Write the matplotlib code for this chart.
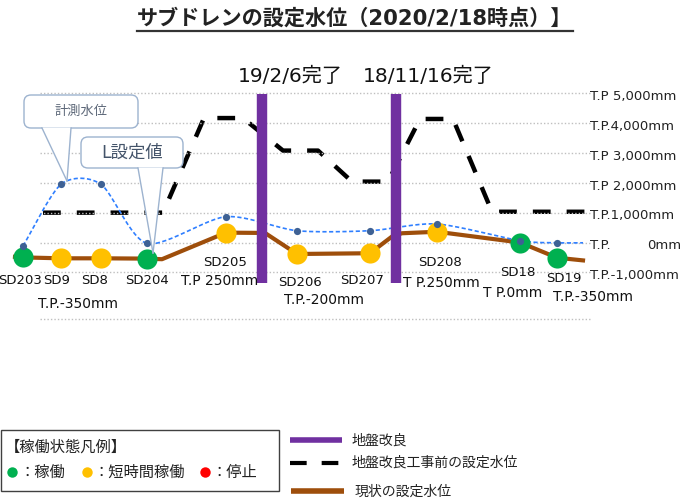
import numpy as np
import matplotlib
matplotlib.use("Agg")
import matplotlib.pyplot as plt
from matplotlib.patches import FancyBboxPatch, Rectangle, Polygon

plt.rcParams['font.family'] = ['DejaVu Sans', 'Noto Sans CJK JP']

# ---------------- data ----------------
stations = ['SD203', 'SD9', 'SD8', 'SD204', 'SD205', 'SD206', 'SD207', 'SD208', 'SD18', 'SD19']
station_pos = [23, 61, 101, 147, 226, 297, 370, 437, 520, 557]
status = ['稼働', '短時間稼働', '短時間稼働', '稼働', '短時間稼働', '短時間稼働',
          '短時間稼働', '短時間稼働', '稼働', '稼働']
measured_level = [-120, 1950, 1950, -30, 865, 395, 395, 620, 60, -10]

current_path_pos = [15, 23, 61, 101, 147, 162, 226, 265, 297, 370, 392, 402, 437, 520, 557, 583]
current_path_level = [-480, -500, -530, -530, -540, -560, 330, 320, -385, -360, 200, 310, 360, 0, -510, -600]

before_path_pos = [43, 163, 204, 243, 283, 318, 352, 388, 420, 453, 492, 585]
before_path_level = [1000, 1000, 4170, 4170, 3080, 3080, 2040, 2040, 4140, 4140, 1030, 1030]

improvement_pos = [262, 396]
improvement_labels = ['19/2/6完了', '18/11/16完了']

grid_levels = [5000, 4000, 3000, 2000, 1000, 0, -1000]
grid_labels = ['T.P 5,000mm', 'T.P.4,000mm', 'T.P 3,000mm', 'T.P 2,000mm',
               'T.P.1,000mm', 'T.P.', 'T.P.-1,000mm']

station_notes = [('SD205', 'T.P 250mm'), ('SD208', 'T P.250mm'), ('SD18', 'T P.0mm'),
                 ('SD19', 'T.P.-350mm')]

status_colors = {'稼働': '#00B050', '短時間稼働': '#FFC000', '停止': '#FF0000'}

# ---------------- figure ----------------
W, H = 697, 504
fig = plt.figure(figsize=(W / 100, H / 100), dpi=100)
k = 0.02984            # px per mm
y0 = 242.5             # pixel row of T.P. 0
ax = fig.add_axes([0, 0, 1, 1])
ax.set_xlim(0, W)
ax.set_ylim((y0 - H) / k, y0 / k)
ax.axis('off')

ov = fig.add_axes([0, 0, 1, 1], zorder=10)
ov.set_xlim(0, W)
ov.set_ylim(H, 0)
ov.axis('off')
ov.patch.set_alpha(0)

# grid lines
for g in grid_levels + [-2560]:
    ax.plot([40, 590], [g, g], color='#BFBFBF', lw=1.0, ls=(0, (1, 1.5)), zorder=2)

# right side labels
for g, lab in zip(grid_levels, grid_labels):
    ax.text(590, g - 110, lab, fontsize=9.5, color='#222222', ha='left', va='center', zorder=3)
ax.text(681, 0 - 110, '0mm', fontsize=9.5, color='#222222', ha='right', va='center', zorder=3)

# pre-improvement setting (dashed)
ax.plot(before_path_pos, before_path_level, color='black', lw=3.2,
        ls=(0, (4.0, 3.6)), zorder=1.5, solid_capstyle='butt', dash_capstyle='butt')

# current setting (brown)
ax.plot(current_path_pos, current_path_level, color='#9E4E0B', lw=3.0, zorder=3)

# measured water level - smooth curve (Bezier / Catmull-Rom through points)
mx = np.array(station_pos + [583], dtype=float)
my = np.array(measured_level + [measured_level[-1]], dtype=float) * k
P = np.column_stack([mx, my])
curve = []
n = len(P)
for i in range(n - 1):
    p0 = P[i - 1] if i > 0 else P[i]
    p1 = P[i]
    p2 = P[i + 1]
    p3 = P[i + 2] if i + 2 < n else P[i + 1]
    c1 = p1 + (p2 - p0) / 7.5
    c2 = p2 - (p3 - p1) / 7.5
    t = np.linspace(0, 1, 30)[:, None]
    seg = (1 - t) ** 3 * p1 + 3 * (1 - t) ** 2 * t * c1 + 3 * (1 - t) * t ** 2 * c2 + t ** 3 * p2
    curve.append(seg)
curve = np.vstack(curve)
ax.plot(curve[:, 0], curve[:, 1] / k, color='#2F7FFF', lw=1.2, ls=(0, (2.5, 1.5)), zorder=4)

# station status markers
current_at_station = np.interp(station_pos, current_path_pos, current_path_level)
for x, lv, st in zip(station_pos, current_at_station, status):
    ax.plot(x, lv, 'o', ms=14.5, color=status_colors[st], mec='none', zorder=5)

# measured points
ax.plot(station_pos, measured_level, 'o', ms=5.2, color='#3E6194', mec='none', zorder=6)

# ground improvement bars
ax.vlines(improvement_pos, (y0 - 283) / k, (y0 - 94) / k, color='#7030A0', lw=7.5, zorder=7)
lab_px = [(290, 76), (428, 76)]
for (px, py), lab in zip(lab_px, improvement_labels):
    ov.text(px, py, lab, fontsize=14.5, color='#111111', ha='center', va='center')

# station labels
label_px = {'SD203': (20.5, 281), 'SD9': (57, 281), 'SD8': (95, 281), 'SD204': (147, 281),
            'SD205': (225, 262), 'SD206': (300, 282), 'SD207': (362, 281),
            'SD208': (440, 262), 'SD18': (518, 273), 'SD19': (564, 279)}
for s in stations:
    px, py = label_px[s]
    ov.text(px, py, s, fontsize=9.5, color='#111111', ha='center', va='center')
note_px = {'SD205': (220, 281), 'SD208': (441, 283), 'SD18': (513, 293), 'SD19': (593, 297)}
for s, note in station_notes:
    px, py = note_px[s]
    ov.text(px, py, note, fontsize=10, color='#111111', ha='center', va='center')
ov.text(78, 304, 'T.P.-350mm', fontsize=10, color='#111111', ha='center', va='center')
ov.text(324, 300, 'T.P.-200mm', fontsize=10, color='#111111', ha='center', va='center')

# callouts
edge = '#9DB3CF'
def callout(x0, y0_, x1, y1, base0, base1, tip, text, fs, color):
    box = FancyBboxPatch((x0, y0_), x1 - x0, y1 - y0_,
                         boxstyle='round,pad=0,rounding_size=7',
                         fc='white', ec=edge, lw=1.0, zorder=1)
    ov.add_patch(box)
    ov.add_patch(Polygon([(base0, y1 - 0.5), tip, (base1, y1 - 0.5)], closed=True,
                         fc='white', ec='none', zorder=2))
    ov.plot([base0, tip[0]], [y1, tip[1]], color=edge, lw=1.0, zorder=3)
    ov.plot([base1, tip[0]], [y1, tip[1]], color=edge, lw=1.0, zorder=3)
    ov.text((x0 + x1) / 2, (y0_ + y1) / 2, text, fontsize=fs, color=color,
            ha='center', va='center', zorder=4)

callout(24, 95, 138, 128, 42, 71, (67, 181), '計測水位', 9.5, '#5B6677')
callout(81, 137, 183, 168, 138, 163, (153, 253), 'L設定値', 12.5, '#44546A')

# title
t = ov.text(355, 18, 'サブドレンの設定水位（2020/2/18時点）】', fontsize=15.2,
            fontweight='bold', color='#222222', ha='center', va='center')
fig.canvas.draw()
bb = t.get_window_extent()
ov.plot([bb.x0, bb.x1], [31, 31], color='#333333', lw=1.6)

# status legend box
ov.add_patch(Rectangle((1, 430), 278, 61, fc='white', ec='#404040', lw=1.0))
ov.text(5, 447, '【稼働状態凡例】', fontsize=11, color='#222222', ha='left', va='center')
leg_items = [(12, '稼働'), (87, '短時間稼働'), (205, '停止')]
for px, st in leg_items:
    ov.plot(px, 472, 'o', ms=7.5, color=status_colors[st], mec='none')
    ov.text(px + 7, 472, '：' + st, fontsize=11, color='#222222', ha='left', va='center')

# line legend
ov.plot([290, 342], [440, 440], color='#7030A0', lw=4.0, solid_capstyle='butt')
ov.text(352, 441, '地盤改良', fontsize=10, color='#222222', ha='left', va='center')
ov.plot([290, 343], [463, 463], color='black', lw=3.0, ls=(0, (4.0, 3.6)), dash_capstyle='butt')
ov.text(352, 463, '地盤改良工事前の設定水位', fontsize=10, color='#222222', ha='left', va='center')
ov.plot([291, 344], [491, 491], color='#9E4E0B', lw=4.0, solid_capstyle='butt')
ov.text(355, 492, '現状の設定水位', fontsize=10, color='#222222', ha='left', va='center')

fig.savefig('out.png', dpi=100)
